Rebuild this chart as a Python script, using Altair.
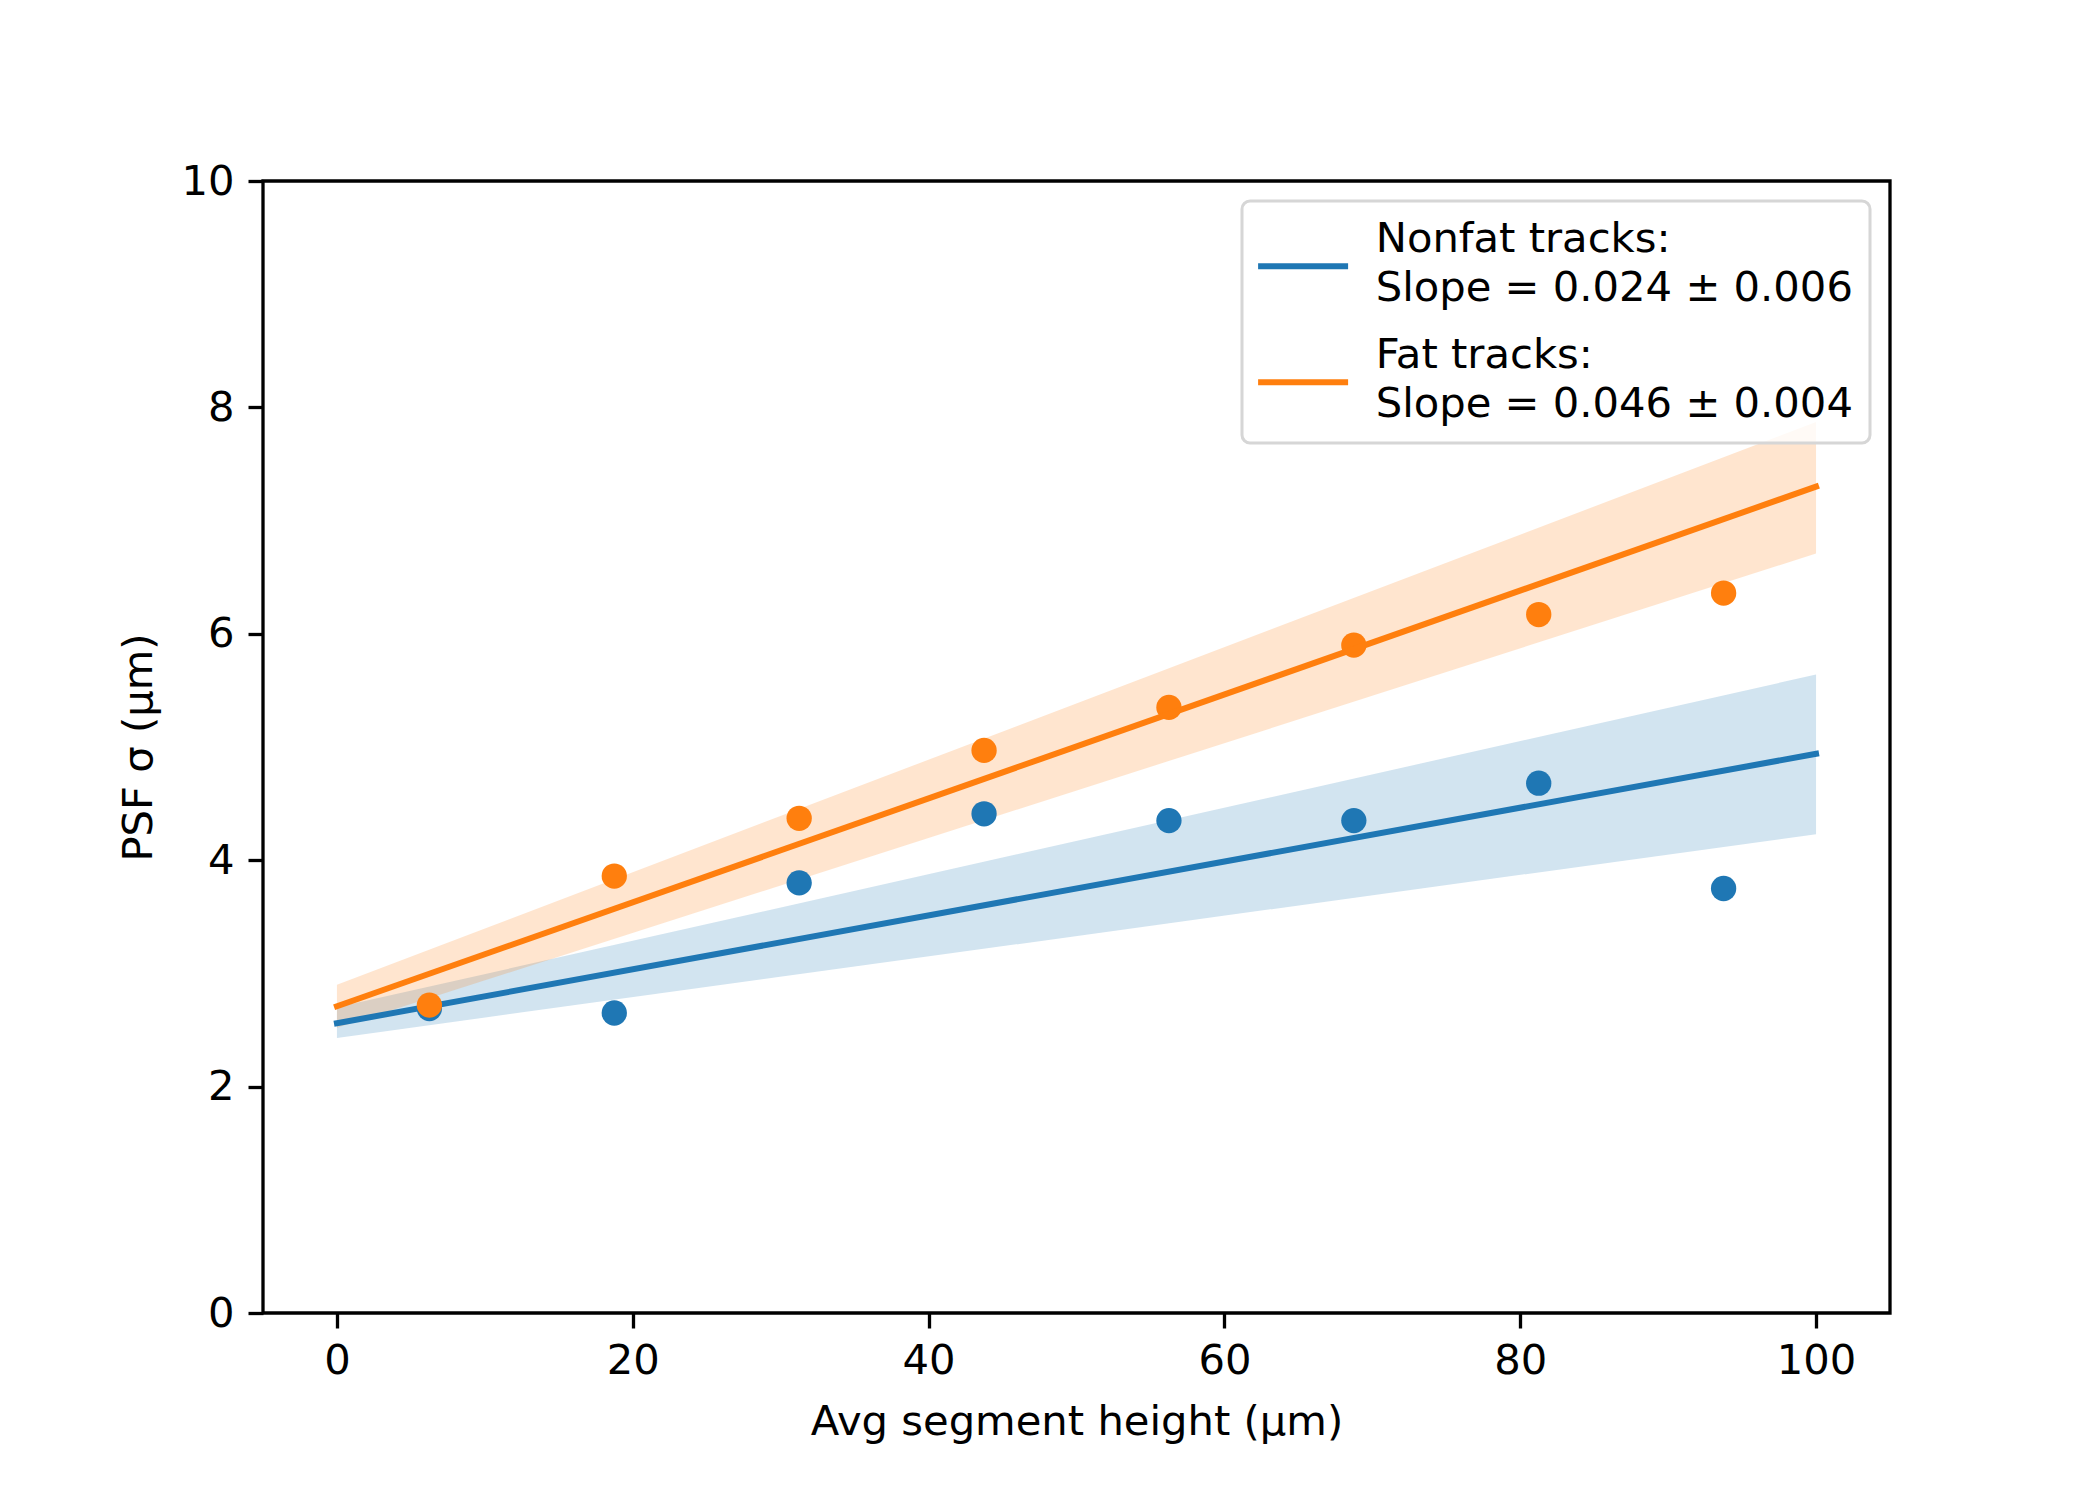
import altair as alt
import pandas as pd

# ---- data ----
x_bins = [6.25, 18.75, 31.25, 43.75, 56.25, 68.75, 81.25, 93.75]
nonfat_sigma = [2.69, 2.65, 3.80, 4.41, 4.35, 4.35, 4.68, 3.75]
fat_sigma = [2.72, 3.86, 4.37, 4.97, 5.35, 5.90, 6.17, 6.36]

fit_x = [0, 100]
nonfat_fit = [2.56, 4.94]
nonfat_lo = [2.43, 4.23]
nonfat_hi = [2.70, 5.64]
fat_fit = [2.71, 7.30]
fat_lo = [2.52, 6.71]
fat_hi = [2.90, 7.87]

series = ["Nonfat tracks:\nSlope = 0.024 ± 0.006", "Fat tracks:\nSlope = 0.046 ± 0.004"]
colors = ["#1f77b4", "#ff7f0e"]

x_ticks = [0, 20, 40, 60, 80, 100]
y_ticks = [0, 2, 4, 6, 8, 10]

FS = 41.7
FONT = "DejaVu Sans"

# ---- tables ----
pts_nf = pd.DataFrame({"x": x_bins, "y": nonfat_sigma})
pts_f = pd.DataFrame({"x": x_bins, "y": fat_sigma})
fit_nf = pd.DataFrame({"x": fit_x, "y": nonfat_fit, "lo": nonfat_lo, "hi": nonfat_hi, "s": series[0]})
fit_f = pd.DataFrame({"x": fit_x, "y": fat_fit, "lo": fat_lo, "hi": fat_hi, "s": series[1]})

xscale = alt.Scale(domain=[-5, 105], nice=False, zero=False)
yscale = alt.Scale(domain=[0, 10], nice=False, zero=False)

xax = alt.Axis(values=x_ticks, title="Avg segment height (μm)", grid=False, domain=False,
               tickSize=15, tickWidth=3.3, tickColor="black", labelPadding=12,
               labelFontSize=FS, titleFontSize=FS, titleFontWeight="normal",
               labelColor="black", titleColor="black", titlePadding=20, labelFlush=False)
yax = alt.Axis(values=y_ticks, title="PSF σ (μm)", grid=False, domain=False,
               tickSize=15, tickWidth=3.3, tickColor="black", labelPadding=14,
               labelFontSize=FS, titleFontSize=FS, titleFontWeight="normal",
               labelColor="black", titleColor="black", titlePadding=20, labelFlush=False)

X = alt.X("x:Q", scale=xscale, axis=xax)
Y = alt.Y("y:Q", scale=yscale, axis=yax)

# legend handle: a horizontal stroke, shifted down to sit between the two label lines
handle_path = "M-1.45,1.83L4.55,1.83"

color_enc = alt.Color(
    "s:N",
    scale=alt.Scale(domain=series, range=colors),
    legend=alt.Legend(
        title=None, orient="none", legendX=979, legendY=20, direction="vertical",
        symbolType=handle_path, symbolStrokeWidth=6, symbolSize=900,
        symbolFillColor="transparent",
        labelFont=FONT, labelFontSize=FS, labelColor="black", labelOffset=75, labelLimit=2000,
        labelExpr="split(datum.label, '\\n')",
        padding=17, rowPadding=24,
        strokeColor="#d6d6d6", cornerRadius=8,
        fillColor="rgba(255,255,255,0.8)",
    ),
)


def band(df, c):
    return alt.Chart(df).mark_area(color=c, opacity=0.2).encode(
        x=X, y=alt.Y("lo:Q", scale=yscale, axis=yax), y2="hi:Q"
    )


def points(df, c):
    return alt.Chart(df).mark_circle(color=c, opacity=1, size=640).encode(x=X, y=Y)


def line(df):
    return alt.Chart(df).mark_line(strokeWidth=6, strokeCap="square").encode(
        x=X, y=Y, color=color_enc
    )


chart = alt.layer(
    band(fit_nf, colors[0]),
    band(fit_f, colors[1]),
    points(pts_nf, colors[0]),
    line(fit_nf),
    points(pts_f, colors[1]),
    line(fit_f),
).properties(
    width=1627, height=1132,
    autosize=alt.AutoSizeParams(type="none"),
    padding={"left": 255, "top": 173, "right": 202, "bottom": 179},
).configure(
    font=FONT,
    style={"guide-label": {"lineHeight": 49}},
).configure_legend(
    strokeWidth=3
).configure_view(
    stroke="black", strokeWidth=3.3
)

chart.save("out.html", embed_options={"renderer": "svg", "actions": False})
